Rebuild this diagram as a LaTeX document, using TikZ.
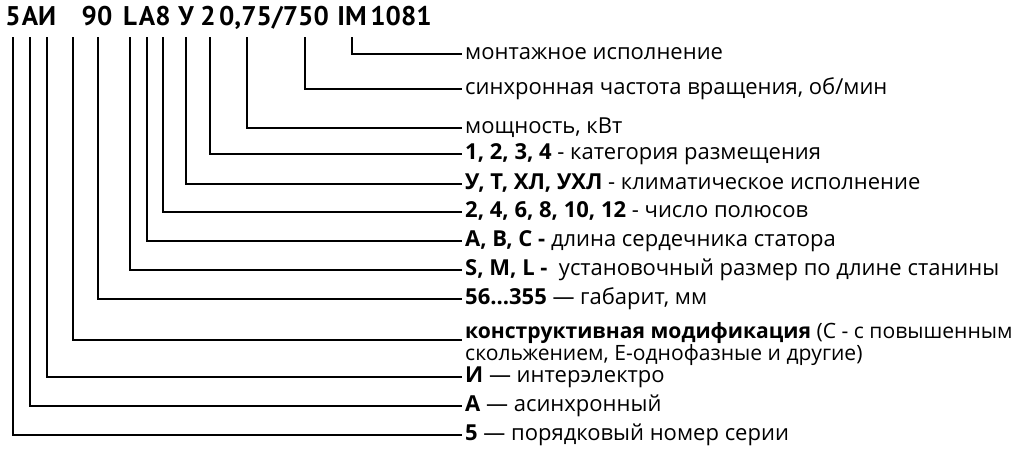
\documentclass[tikz,border=0pt]{standalone}
\usepackage{fontspec}
\setmainfont{Open Sans}
\newfontfamily\hdrfont{PT Sans}
\begin{document}
\begin{tikzpicture}[x=1pt,y=-1pt,
  hdr/.style={inner sep=0pt,anchor=base,font=\hdrfont\fontsize{27}{30}\selectfont\bfseries},
  desc/.style={inner sep=0pt,anchor=west,text height=16.5pt,text depth=5pt,font=\fontsize{22}{22}\selectfont},
  conn/.style={line width=1.2pt,line join=miter}]
\useasboundingbox[fill=white] (0,0) rectangle (1024,456);
% header
\node[hdr] (h5) at (13,25) {5};
\node[hdr] (hA) at (30,25) {А};
\node[hdr] (hI) at (47,25) {И};
\node[hdr] (h90) at (97,25) {90};
\node[hdr] (hL) at (130,25) {L};
\node[hdr] (hA2) at (147,25) {A};
\node[hdr] (h8) at (163,25) {8};
\node[hdr] (hU) at (186,25) {У};
\node[hdr] (h2) at (208,25) {2};
\node[hdr] (hP) at (274,25) {0,75/750};
\node[hdr] (hIM) at (352,25) {IM};
\node[hdr] (h1081) at (401,25) {1081};
% top coordinates of the leaders
\foreach \n/\x in {1/352,2/305,3/247,4/210,5/186,6/163,7/147,8/130,9/98,10/73,11/47,12/30,13/13}
  \coordinate (t\n) at (\x,37);
% descriptions
\node[desc] (d1) at (465,54) {монтажное исполнение};
\node[desc] (d2) at (465,89) {синхронная частота вращения, об/мин};
\node[desc] (d3) at (465,128) {мощность, кВт};
\node[desc] (d4) at (465,154) {\textbf{1, 2, 3, 4} - категория размещения};
\node[desc] (d5) at (465,184) {\textbf{У, Т, ХЛ, УХЛ} - климатическое исполнение};
\node[desc] (d6) at (465,212) {\textbf{2, 4, 6, 8, 10, 12} - число полюсов};
\node[desc] (d7) at (465,241) {\textbf{А, В, С -} длина сердечника статора};
\node[desc] (d8) at (465,270) {\textbf{S, M, L -}\ \ установочный размер по длине станины};
\node[desc] (d9) at (465,299) {\textbf{56...355} — габарит, мм};
\node[inner sep=0pt,anchor=base west,align=left,font=\fontsize{21.1}{22}\selectfont] (d10) at (465,360)
  {\textbf{конструктивная модификация} (С - с повышенным\\скольжением, Е-однофазные и другие)};
\coordinate (e10) at (462,340);
\node[desc] (d11) at (465,377) {\textbf{И} — интерэлектро};
\node[desc] (d12) at (465,406) {\textbf{А} — асинхронный};
\node[desc] (d13) at (465,435) {\textbf{5} — порядковый номер серии};
% connectors
\foreach \n in {1,...,9,11,12,13}
  \draw[conn] (t\n) |- ([xshift=-3pt]d\n.west);
\draw[conn] (t10) |- (e10);
\end{tikzpicture}
\end{document}
